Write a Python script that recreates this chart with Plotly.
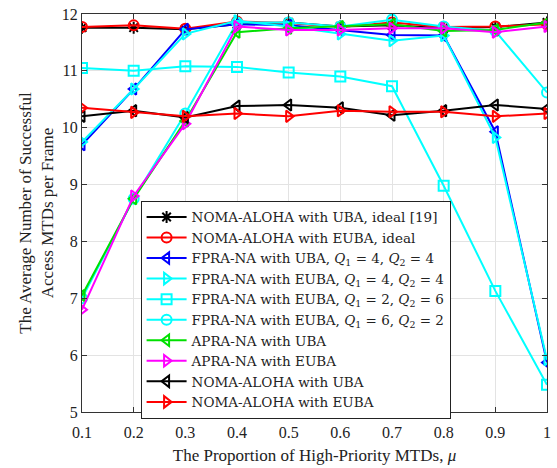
import plotly.graph_objects as go

mu = [0.1, 0.2, 0.3, 0.4, 0.5, 0.6, 0.7, 0.8, 0.9, 1.0]

noma_uba_ideal = [11.76, 11.76, 11.73, 11.82, 11.85, 11.78, 11.80, 11.75, 11.77, 11.85]
noma_euba_ideal = [11.77, 11.80, 11.74, 11.87, 11.84, 11.77, 11.85, 11.77, 11.78, 11.82]
fpra_uba_44 = [9.70, 10.68, 11.73, 11.82, 11.80, 11.72, 11.63, 11.62, 9.93, 5.87]
fpra_euba_44 = [9.75, 10.68, 11.65, 11.88, 11.78, 11.65, 11.53, 11.62, 9.83, 5.92]
fpra_euba_26 = [11.05, 11.00, 11.08, 11.07, 10.97, 10.90, 10.73, 8.98, 7.13, 5.48]
fpra_euba_62 = [7.00, 8.75, 10.25, 11.85, 11.85, 11.78, 11.90, 11.78, 11.70, 10.62]
apra_uba = [7.05, 8.75, 10.12, 11.68, 11.75, 11.78, 11.82, 11.70, 11.72, 11.85]
apra_euba = [6.80, 8.80, 10.07, 11.78, 11.72, 11.72, 11.75, 11.75, 11.68, 11.78]
noma_uba = [10.20, 10.30, 10.18, 10.38, 10.40, 10.35, 10.22, 10.30, 10.40, 10.33]
noma_euba = [10.35, 10.27, 10.20, 10.25, 10.20, 10.30, 10.28, 10.28, 10.20, 10.25]

x_ticks = ["0.1", "0.2", "0.3", "0.4", "0.5", "0.6", "0.7", "0.8", "0.9", "1"]

series = [
    ("NOMA-ALOHA with UBA, ideal [19]", noma_uba_ideal, "black", "asterisk-open"),
    ("NOMA-ALOHA with EUBA, ideal", noma_euba_ideal, "red", "circle-open"),
    ("FPRA-NA with UBA, <i>Q</i><sub>1</sub> = 4, <i>Q</i><sub>2</sub> = 4", fpra_uba_44, "blue", "triangle-left-open"),
    ("FPRA-NA with EUBA, <i>Q</i><sub>1</sub> = 4, <i>Q</i><sub>2</sub> = 4", fpra_euba_44, "cyan", "triangle-right-open"),
    ("FPRA-NA with EUBA, <i>Q</i><sub>1</sub> = 2, <i>Q</i><sub>2</sub> = 6", fpra_euba_26, "cyan", "square-open"),
    ("FPRA-NA with EUBA, <i>Q</i><sub>1</sub> = 6, <i>Q</i><sub>2</sub> = 2", fpra_euba_62, "cyan", "circle-open"),
    ("APRA-NA with UBA", apra_uba, "#00e000", "triangle-left-open"),
    ("APRA-NA with EUBA", apra_euba, "magenta", "triangle-right-open"),
    ("NOMA-ALOHA with UBA", noma_uba, "black", "triangle-left-open"),
    ("NOMA-ALOHA with EUBA", noma_euba, "red", "triangle-right-open"),
]

fig = go.Figure()
for name, ys, color, sym in series:
    fig.add_trace(go.Scatter(
        x=mu, y=ys, name=name, mode="lines+markers",
        line=dict(color=color, width=2),
        marker=dict(symbol=sym, size=10, color=color, line=dict(color=color, width=2)),
    ))

font = "Liberation Serif, Times New Roman, serif"
axis_common = dict(
    showgrid=True, gridcolor="#e3e3e3", gridwidth=1,
    showline=True, linecolor="#333", linewidth=1, mirror="ticks",
    ticks="inside", ticklen=5, tickcolor="#333",
    tickfont=dict(family=font, size=16, color="#222"),
    zeroline=False,
)
fig.update_layout(
    width=557, height=468,
    margin=dict(l=82, r=6, t=13, b=56),
    paper_bgcolor="white", plot_bgcolor="white",
    font=dict(family=font, color="#222"),
    xaxis=dict(range=[0.1, 1.0], tickvals=mu, ticktext=x_ticks, ticklabelstandoff=6,
               title=dict(text="The Proportion of High-Priority MTDs, <i>μ</i>", font=dict(family=font, size=17), standoff=8),
               **axis_common),
    yaxis=dict(range=[5, 12], dtick=1,
               title=dict(text="The Average Number of Successful<br>Access MTDs per Frame", font=dict(family=font, size=17), standoff=3),
               **axis_common),
    legend=dict(x=0.126, y=0.531, xanchor="left", yanchor="top",
                bgcolor="white", bordercolor="#222", borderwidth=1,
                font=dict(family="DejaVu Serif, serif", size=13.5, color="#222"),
                tracegroupgap=0, itemwidth=40),
    showlegend=True,
)

fig.write_html("out.html")
